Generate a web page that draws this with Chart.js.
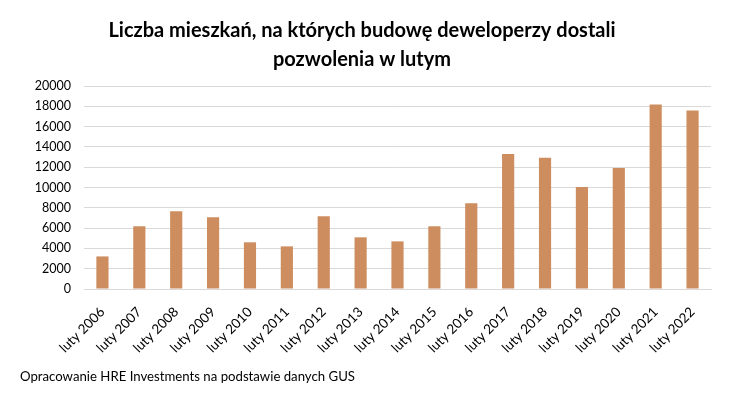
<!DOCTYPE html>
<html>
<head>
<meta charset="utf-8">
<script src="https://cdn.jsdelivr.net/npm/chart.js@4"></script>
<style>
  html, body { margin: 0; padding: 0; background: #fff; }
  #wrap { width: 736px; height: 396px; position: relative; }
</style>
</head>
<body>
<div id="wrap"><canvas id="chart" width="736" height="396"></canvas></div>
<script>
const titleLines = ["Liczba mieszkań, na których budowę deweloperzy dostali", "pozwolenia w lutym"];
const sourceText = "Opracowanie HRE Investments na podstawie danych GUS";

const years = ["luty 2006", "luty 2007", "luty 2008", "luty 2009", "luty 2010", "luty 2011",
  "luty 2012", "luty 2013", "luty 2014", "luty 2015", "luty 2016", "luty 2017",
  "luty 2018", "luty 2019", "luty 2020", "luty 2021", "luty 2022"];
const flats = [3210, 6180, 7670, 7070, 4600, 4200, 7170, 5090, 4690, 6180, 8460,
  13300, 12930, 10050, 11930, 18180, 17590];
const yTicks = [0, 2000, 4000, 6000, 8000, 10000, 12000, 14000, 16000, 18000, 20000];

const font = "Lato, 'Liberation Sans', sans-serif";

// title + source note drawn on the canvas
const textPlugin = {
  id: "texts",
  afterDraw(chart) {
    const ctx = chart.ctx;
    ctx.save();
    ctx.fillStyle = "#000";
    ctx.textAlign = "center";
    ctx.textBaseline = "alphabetic";
    ctx.font = "bold 20px " + font;
    ctx.fillText(titleLines[0], 362, 37);
    ctx.fillText(titleLines[1], 362, 66);
    ctx.textAlign = "left";
    ctx.font = "13.2px " + font;
    ctx.fillText(sourceText, 20, 381);
    ctx.restore();
  },
};

new Chart(document.getElementById("chart"), {
  type: "bar",
  data: {
    labels: years,
    datasets: [{
      data: flats,
      backgroundColor: "#CE8D5E",
      categoryPercentage: 1,
      barPercentage: 0.33,
    }],
  },
  options: {
    responsive: false,
    animation: false,
    layout: { padding: { top: 86, right: 25, bottom: 32, left: 0 } },
    plugins: { legend: { display: false }, title: { display: false }, tooltip: { enabled: false } },
    scales: {
      x: {
        grid: { display: false },
        border: { color: "#d9d9d9" },
        ticks: {
          color: "#000",
          font: { family: font, size: 13.5 },
          minRotation: 45,
          maxRotation: 45,
          autoSkip: false,
          padding: 7,
        },
        afterFit(scale) { scale.height = 75; },
      },
      y: {
        min: 0,
        max: 20000,
        afterBuildTicks(scale) { scale.ticks = yTicks.map((v) => ({ value: v })); },
        grid: { color: "#d9d9d9", drawTicks: false },
        border: { display: false },
        ticks: {
          color: "#000",
          font: { family: font, size: 12.5 },
          padding: 13,
          callback: (v) => String(v),
        },
        afterFit(scale) { scale.width = 84; },
      },
    },
  },
  plugins: [textPlugin],
});
</script>
</body>
</html>
